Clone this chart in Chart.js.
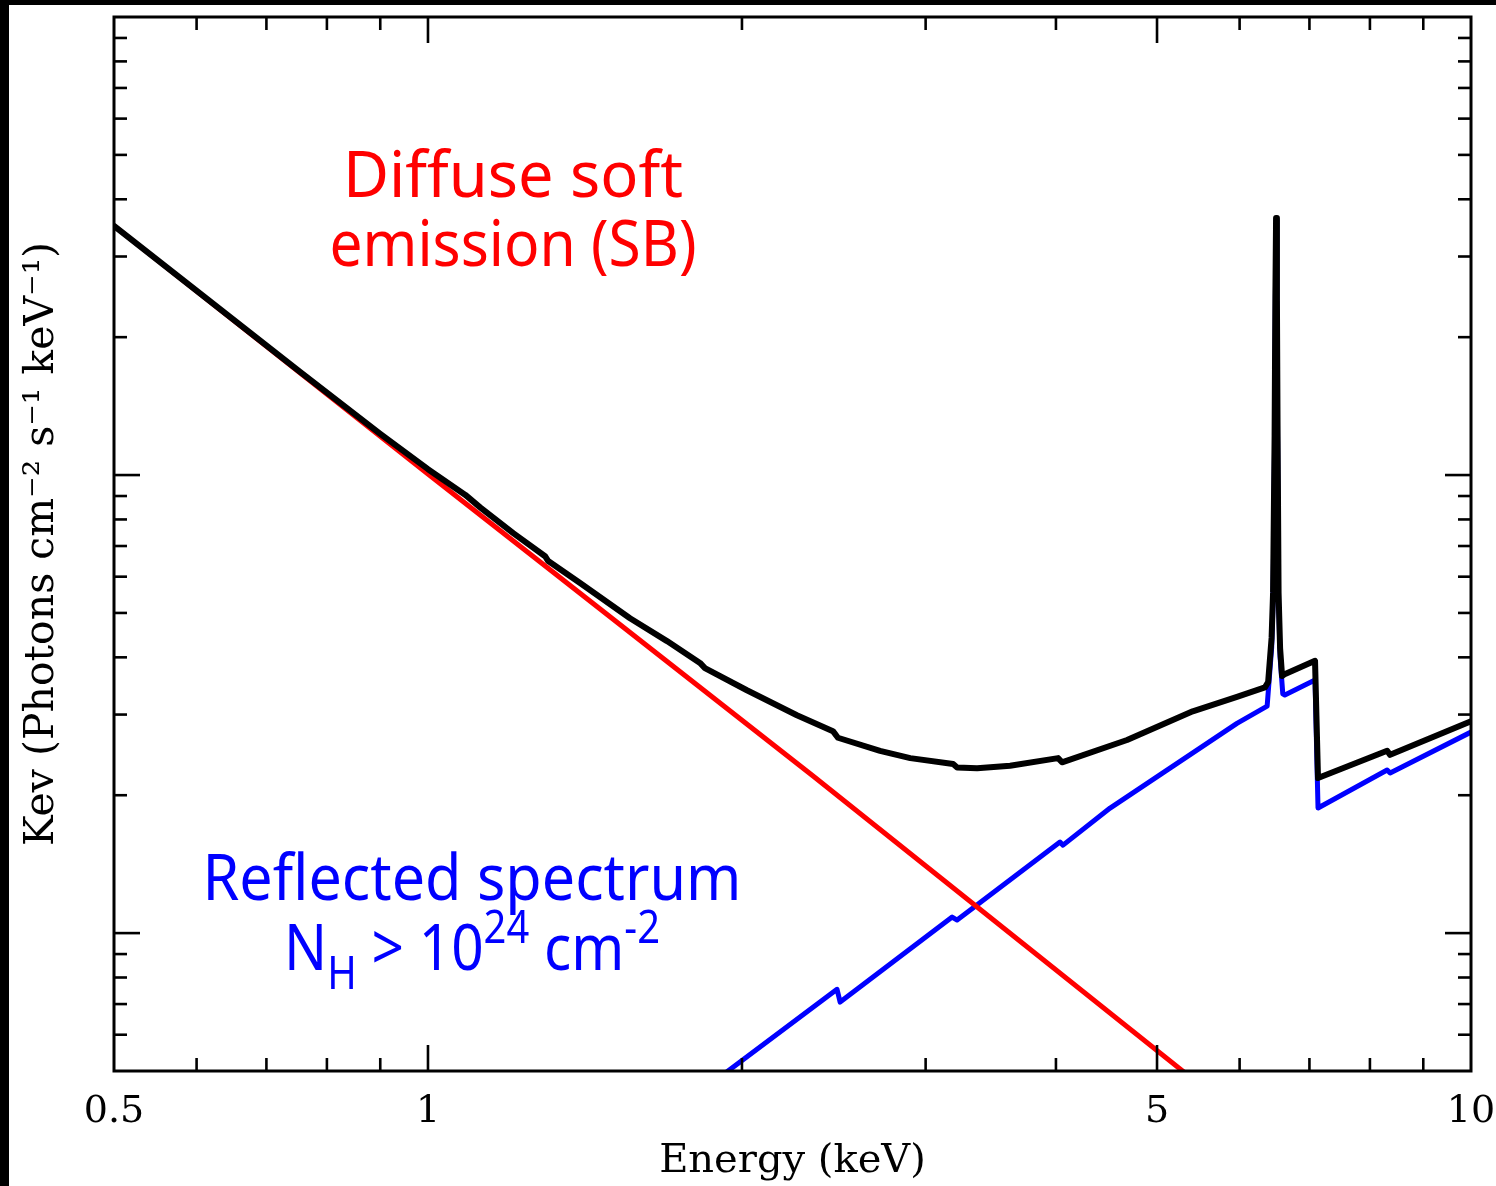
<!DOCTYPE html>
<html>
<head>
<meta charset="utf-8">
<script src="https://cdn.jsdelivr.net/npm/chart.js@4.4.1/dist/chart.umd.min.js"></script>
<style>
  html, body { margin: 0; padding: 0; background: #000; width: 1496px; height: 1186px; overflow: hidden; }
  #wrap { position: absolute; left: 9px; top: 5px; width: 1487px; height: 1181px; background: #fff; }
</style>
</head>
<body>
<div id="wrap"><canvas id="spec" width="1487" height="1181"></canvas></div>
<script>
/* spectrum: soft power law (red) + reflected component (blue) = total (black) */
const SERIF = '"DejaVu Serif", serif';
const SANS = '"Noto Sans", sans-serif';

// total model
const TOTAL_E = [0.5, 0.754, 0.9, 1.0, 1.086, 1.122, 1.207, 1.295, 1.304, 1.399, 1.562, 1.695, 1.823, 1.843,
  2.022, 2.258, 2.445, 2.472, 2.713, 2.900, 3.188, 3.216, 3.361, 3.615, 4.019, 4.054, 4.680, 5.41, 5.965,
  6.345, 6.39, 6.439, 6.46, 6.482, 6.493, 6.503, 6.515, 6.525, 6.539, 6.561, 6.59, 6.635, 7.087, 7.134,
  8.31, 8.365, 10];
const TOTAL_F = [3.50, 1.68, 1.23, 1.03, 0.905, 0.850, 0.747, 0.665, 0.649, 0.581, 0.487, 0.434, 0.389, 0.379,
  0.339, 0.299, 0.276, 0.267, 0.250, 0.241, 0.234, 0.230, 0.229, 0.232, 0.241, 0.236, 0.264, 0.305, 0.328,
  0.344, 0.353, 0.441, 0.553, 1.22, 2.44, 3.64, 2.44, 1.22, 0.553, 0.419, 0.364, 0.368, 0.393, 0.218,
  0.250, 0.245, 0.290];

// diffuse soft emission
const SOFT_E = [0.5, 1.0, 2.34, 5.38];
const SOFT_F = [3.50, 1.005, 0.2203, 0.0485];

// reflected spectrum
const REFL_E = [1.905, 2.467, 2.484, 3.181, 3.216, 4.036, 4.063, 4.508, 5.965, 6.376, 6.44, 6.46, 6.482,
  6.493, 6.503, 6.515, 6.525, 6.539, 6.561, 6.6, 6.63, 7.087, 7.134, 8.31, 8.365, 10];
const REFL_F = [0.0485, 0.0754, 0.0707, 0.1084, 0.1068, 0.158, 0.1556, 0.1875, 0.287, 0.313, 0.42, 0.53, 1.19,
  2.40, 3.60, 2.40, 1.19, 0.53, 0.40, 0.333, 0.331, 0.357, 0.1875, 0.227, 0.2236, 0.2747];

// axes
const X_LABELS = [0.5, 1, 5, 10];
const X_MAJOR = [1, 5];
const X_MINOR = [0.6, 0.7, 0.8, 0.9, 2, 3, 4, 6, 7, 8, 9];
const Y_MAJOR = [0.1, 1];
const Y_MINOR = [0.06, 0.07, 0.08, 0.09, 0.2, 0.3, 0.4, 0.5, 0.6, 0.7, 0.8, 0.9, 2, 3, 4, 5, 6, 7, 8, 9];

const pts = (xs, ys) => xs.map((x, i) => ({ x, y: ys[i] }));

/* ---- frame with inward ticks on all four sides ---- */
const frameTicks = {
  id: 'frameTicks',
  afterDraw(chart) {
    const { ctx, chartArea: a, scales: { x, y } } = chart;
    const MAJ = 26, MIN = 13;
    const seg = (x0, y0, x1, y1) => { ctx.beginPath(); ctx.moveTo(x0, y0); ctx.lineTo(x1, y1); ctx.stroke(); };
    ctx.save();
    ctx.strokeStyle = '#000';
    ctx.lineWidth = 2.6;
    ctx.lineCap = 'butt';
    const xt = (v, L) => { const p = x.getPixelForValue(v); seg(p, a.bottom, p, a.bottom - L); seg(p, a.top, p, a.top + L); };
    const yt = (v, L) => { const p = y.getPixelForValue(v); seg(a.left, p, a.left + L, p); seg(a.right, p, a.right - L, p); };
    X_MAJOR.forEach(v => xt(v, MAJ));
    X_MINOR.forEach(v => xt(v, MIN));
    Y_MAJOR.forEach(v => yt(v, MAJ));
    Y_MINOR.forEach(v => yt(v, MIN));
    ctx.lineWidth = 3;
    ctx.strokeRect(a.left, a.top, a.right - a.left, a.bottom - a.top);
    ctx.restore();
  }
};

/* ---- hand-written style annotations ---- */
function drawRuns(ctx, parts, cx, base, size, width, color) {
  const fontFor = k => `${k ? Math.round(size * 0.7) : size}px ${SANS}`;
  const w = parts.map(([t, k]) => { ctx.font = fontFor(k); return ctx.measureText(t).width; });
  const total = w.reduce((s, v) => s + v, 0);
  const sx = width / total;
  ctx.save();
  ctx.fillStyle = color;
  ctx.textBaseline = 'alphabetic';
  ctx.textAlign = 'left';
  ctx.translate(cx - width / 2, base);
  ctx.scale(sx, 1);
  let xx = 0;
  parts.forEach(([t, k], i) => {
    ctx.font = fontFor(k);
    const dy = k === 'sub' ? size * 0.3 : k === 'sup' ? -size * 0.42 : 0;
    ctx.fillText(t, xx, dy);
    xx += w[i];
  });
  ctx.restore();
}

const notes = {
  id: 'notes',
  afterDraw(chart) {
    const ctx = chart.ctx;
    drawRuns(ctx, [['Diffuse soft', '']], 504, 192, 64, 340, '#ff0000');
    drawRuns(ctx, [['emission (SB)', '']], 504, 261, 64, 367, '#ff0000');
    drawRuns(ctx, [['Reflected spectrum', '']], 463, 895, 64, 539, '#0000ff');
    drawRuns(ctx, [['N', ''], ['H', 'sub'], [' > 10', ''], ['24', 'sup'], [' cm', ''], ['-2', 'sup']],
      463, 965, 64, 376, '#0000ff');
  }
};

const line = (label, data, color, width, order) => ({
  label, data, order,
  borderColor: color, borderWidth: width,
  pointRadius: 0, tension: 0, fill: false,
  borderJoinStyle: 'round', borderCapStyle: 'round'
});

new Chart('spec', {
  type: 'line',
  data: {
    datasets: [
      line('Total', pts(TOTAL_E, TOTAL_F), '#000000', 6, 0),
      line('Diffuse soft emission (SB)', pts(SOFT_E, SOFT_F), '#ff0000', 5, 1),
      line('Reflected spectrum', pts(REFL_E, REFL_F), '#0000ff', 5, 2)
    ]
  },
  options: {
    responsive: false,
    animation: false,
    events: [],
    layout: { padding: { top: 12, right: 25, left: 0, bottom: 0 } },
    plugins: { legend: { display: false }, tooltip: { enabled: false } },
    scales: {
      x: {
        type: 'logarithmic', min: 0.5, max: 10,
        afterFit: s => { s.height = 115; s.paddingLeft = 0; s.paddingRight = 0; },
        afterBuildTicks: s => { s.ticks = X_LABELS.map(v => ({ value: v })); },
        grid: { display: false, drawTicks: false },
        border: { display: false },
        ticks: {
          autoSkip: false, maxRotation: 0, padding: 18, color: '#000',
          font: { family: SERIF, size: 38 },
          callback: v => String(v)
        },
        title: {
          display: true, text: 'Energy (keV)', color: '#000',
          font: { family: SERIF, size: 40 }, padding: { top: 0, bottom: 0 }
        }
      },
      y: {
        type: 'logarithmic', min: 0.05, max: 10,
        afterFit: s => { s.width = 105; s.paddingTop = 0; s.paddingBottom = 0; },
        grid: { display: false, drawTicks: false },
        border: { display: false },
        ticks: { display: false },
        title: {
          display: true, text: 'Kev (Photons cm⁻² s⁻¹ keV⁻¹)', color: '#000',
          font: { family: SERIF, size: 41 }, padding: { top: 9, bottom: 0 }
        }
      }
    }
  },
  plugins: [frameTicks, notes]
});
</script>
</body>
</html>
